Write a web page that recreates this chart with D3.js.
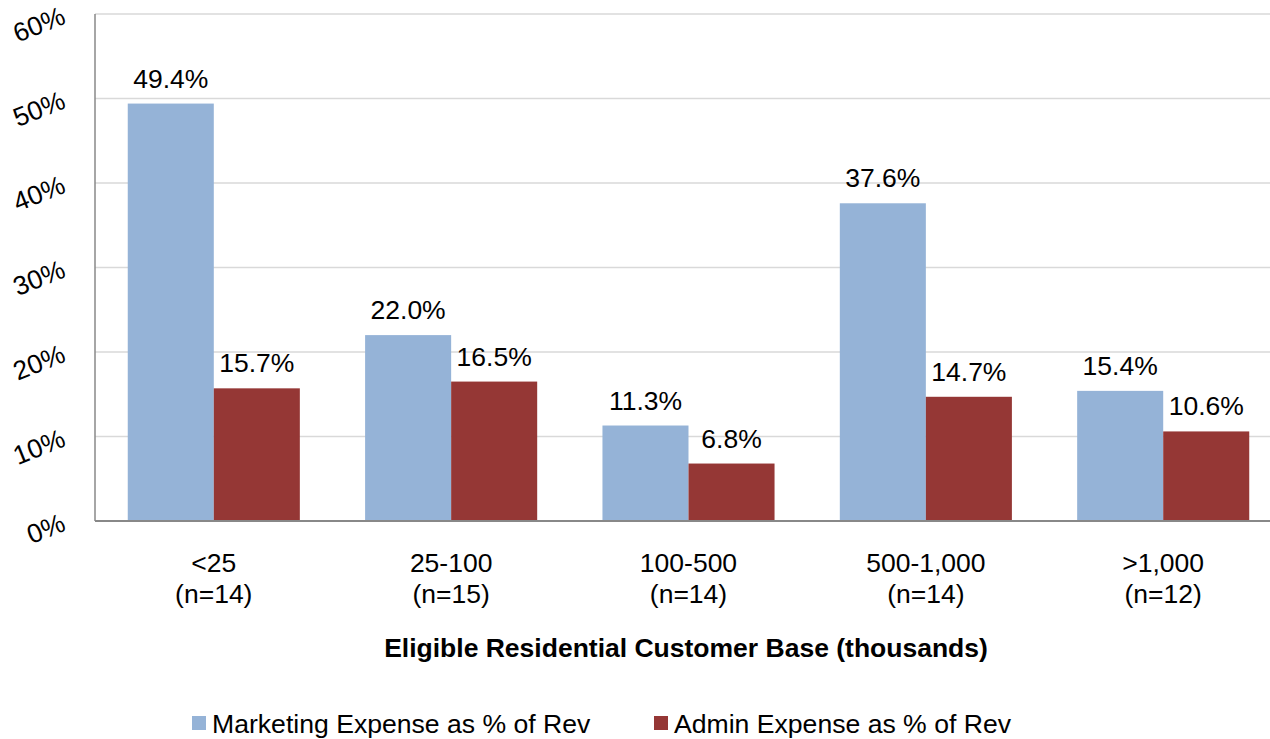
<!DOCTYPE html>
<html><head><meta charset="utf-8">
<script src="https://cdn.jsdelivr.net/npm/d3@7"></script>
<style>body{margin:0;background:#fff;} text{font-family:"Liberation Sans",Arial,sans-serif;}</style>
</head><body>
<svg id="c" width="1270" height="739"></svg>
<script>
const categories = ["<25", "25-100", "100-500", "500-1,000", ">1,000"];
const counts = ["(n=14)", "(n=15)", "(n=14)", "(n=14)", "(n=12)"];
const seriesNames = ["Marketing Expense as % of Rev", "Admin Expense as % of Rev"];
const marketing = [49.4, 22.0, 11.3, 37.6, 15.4];
const admin = [15.7, 16.5, 6.8, 14.7, 10.6];
const yTicks = [0, 10, 20, 30, 40, 50, 60];
const colors = ["#95B3D7", "#953735"];

const svg = d3.select("#c");
const m = {left: 95, right: 1282, top: 14, bottom: 521};
const x0 = d3.scaleBand().domain(categories).range([m.left, m.right]).paddingInner(0.275).paddingOuter(0.138);
const x1 = d3.scaleBand().domain([0,1]).range([0, x0.bandwidth()]);
const y = d3.scaleLinear().domain([0, 60]).range([m.bottom, m.top]);
const FS = 26.5;

// gridlines
svg.append("g").selectAll("line").data(yTicks.slice(1)).join("line")
  .attr("x1", m.left).attr("x2", 1270).attr("y1", d=>y(d)).attr("y2", d=>y(d))
  .attr("stroke", "#D9D9D9").attr("stroke-width", 1.5);

const data = categories.map((c,i)=>({c, v:[marketing[i], admin[i]]}));
const g = svg.append("g").selectAll("g").data(data).join("g")
  .attr("transform", d=>`translate(${x0(d.c)},0)`);
g.selectAll("rect").data(d=>d.v.map((v,k)=>({v,k}))).join("rect")
  .attr("x", d=>x1(d.k)).attr("width", x1.bandwidth())
  .attr("y", d=>y(d.v)).attr("height", d=>y(0)-y(d.v))
  .attr("fill", d=>colors[d.k]);
g.selectAll("text").data(d=>d.v.map((v,k)=>({v,k}))).join("text")
  .attr("x", d=>x1(d.k)+x1.bandwidth()/2).attr("y", d=>y(d.v)-16)
  .attr("text-anchor","middle").attr("font-size", FS).attr("fill","#000")
  .text(d=>d.v.toFixed(1)+"%");

// axes lines
svg.append("line").attr("x1", m.left).attr("x2", m.left).attr("y1", m.top).attr("y2", m.bottom)
  .attr("stroke","#888").attr("stroke-width",1.5);
svg.append("line").attr("x1", m.left).attr("x2", 1270).attr("y1", m.bottom).attr("y2", m.bottom)
  .attr("stroke","#888").attr("stroke-width",2);

// y tick labels rotated
svg.append("g").selectAll("text").data(yTicks).join("text")
  .attr("transform", d=>`translate(${67},${y(d)+9}) rotate(-22)`)
  .attr("text-anchor","end").attr("font-size",FS).attr("fill","#000")
  .text(d=>d+"%");

// category labels
const cl = svg.append("g").selectAll("text").data(categories).join("text")
  .attr("text-anchor","middle").attr("font-size",FS).attr("fill","#000");
cl.append("tspan").attr("x", d=>x0(d)+x0.bandwidth()/2).attr("y", 572).text(d=>d);
cl.append("tspan").attr("x", d=>x0(d)+x0.bandwidth()/2).attr("y", 603).text((d,i)=>counts[i]);

svg.append("text").attr("x", 686).attr("y", 657).attr("text-anchor","middle")
  .attr("font-size",FS).attr("font-weight","bold").text("Eligible Residential Customer Base (thousands)");

// legend
const legX = [192, 654];
const lg = svg.append("g").selectAll("g").data(seriesNames).join("g")
  .attr("transform",(d,i)=>`translate(${legX[i]},716)`);
lg.append("rect").attr("width",14).attr("height",14).attr("fill",(d,i)=>colors[i]);
lg.append("text").attr("x",20).attr("y",17).attr("font-size",26.6).text(d=>d);
</script>
</body></html>
